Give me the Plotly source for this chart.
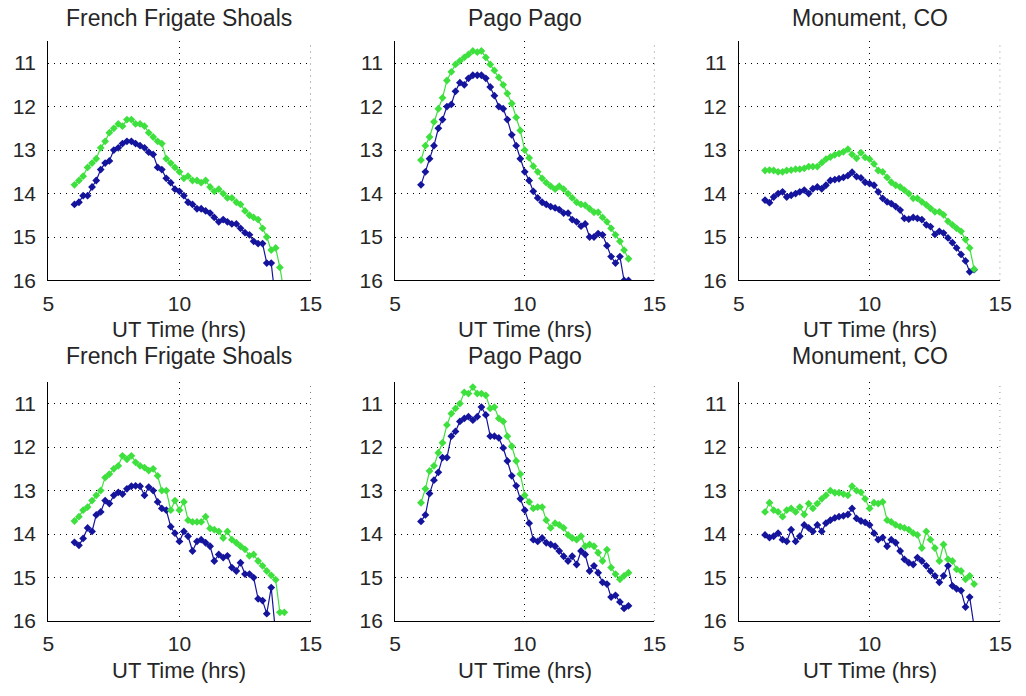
import plotly.graph_objects as go

# ---------------- data ----------------
ut_time = [6.0, 6.17, 6.33, 6.5, 6.67, 6.83, 7.0, 7.17, 7.33, 7.5, 7.67, 7.83,
           8.0, 8.17, 8.33, 8.5, 8.67, 8.83, 9.0, 9.17, 9.33, 9.5, 9.67, 9.83,
           10.0, 10.17, 10.33, 10.5, 10.67, 10.83, 11.0, 11.17, 11.33, 11.5, 11.67, 11.83,
           12.0, 12.17, 12.33, 12.5, 12.67, 12.83, 13.0, 13.17, 13.33, 13.5, 13.67, 13.83, 14.0]

titles = ["French Frigate Shoals", "Pago Pago", "Monument, CO",
          "French Frigate Shoals", "Pago Pago", "Monument, CO"]

ffs_top_green = [13.8, 13.7, 13.6, 13.4, 13.3, 13.2, 12.95, 12.8, 12.6, 12.5,
                 12.4, 12.45, 12.3, 12.3, 12.4, 12.4, 12.45, 12.6, 12.7, 12.8,
                 12.85, 13.2, 13.3, 13.4, 13.5, 13.65, 13.6, 13.7, 13.7, 13.75,
                 13.7, 13.85, 13.95, 13.9, 14.0, 14.1, 14.1, 14.2, 14.25, 14.4,
                 14.5, 14.55, 14.6, 14.8, 15.0, 15.3, 15.25, 15.7, 16.3]
ffs_top_blue = [14.25, 14.2, 14.05, 14.05, 13.85, 13.7, 13.45, 13.3, 13.25, 13.0,
                12.95, 12.85, 12.8, 12.8, 12.85, 12.9, 12.95, 13.05, 13.1, 13.4,
                13.45, 13.65, 13.75, 13.9, 13.95, 14.05, 14.2, 14.25, 14.35, 14.35,
                14.4, 14.45, 14.55, 14.65, 14.6, 14.65, 14.7, 14.7, 14.8, 14.9,
                14.95, 15.1, 15.15, 15.15, 15.6, 15.6, 16.5, None, None]

pago_top_green = [13.23, 12.9, 12.7, 12.35, 12.05, 11.8, 11.4, 11.2, 11.03, 10.95,
                  10.87, 10.8, 10.72, 10.75, 10.72, 10.87, 11.03, 11.17, 11.33, 11.5,
                  11.7, 11.93, 12.25, 12.55, 13.0, 13.18, 13.37, 13.5, 13.65, 13.75,
                  13.83, 13.9, 13.83, 13.9, 14.0, 14.1, 14.2, 14.25, 14.27, 14.35,
                  14.43, 14.43, 14.55, 14.65, 14.8, 14.95, 15.1, 15.3, 15.5]
pago_top_blue = [13.8, 13.5, 13.2, 12.9, 12.5, 12.3, 12.0, 11.95, 11.65, 11.45,
                 11.5, 11.35, 11.28, 11.28, 11.28, 11.35, 11.55, 11.75, 12.0, 12.05,
                 12.3, 12.65, 12.9, 13.2, 13.5, 13.7, 13.95, 14.1, 14.2, 14.25,
                 14.3, 14.33, 14.37, 14.45, 14.45, 14.6, 14.65, 14.75, 14.7, 15.0,
                 15.0, 14.92, 14.95, 15.2, 15.45, 15.6, 15.45, 16.0, 16.0]

mon_top_green = [13.47, 13.46, 13.47, 13.5, 13.5, 13.47, 13.46, 13.44, 13.44, 13.42,
                 13.38, 13.38, 13.38, 13.29, 13.21, 13.16, 13.11, 13.08, 13.04, 12.98,
                 13.1, 13.19, 13.06, 13.17, 13.21, 13.32, 13.47, 13.5, 13.63, 13.74,
                 13.81, 13.85, 13.92, 14.0, 14.11, 14.11, 14.19, 14.26, 14.34, 14.42,
                 14.42, 14.49, 14.64, 14.72, 14.8, 14.87, 15.06, 15.25, 15.74]
mon_top_blue = [14.15, 14.21, 14.08, 14.0, 13.96, 14.08, 14.04, 14.0, 13.96, 13.92,
                14.0, 13.89, 13.85, 13.89, 13.81, 13.7, 13.68, 13.66, 13.63, 13.59,
                13.51, 13.61, 13.64, 13.74, 13.77, 13.81, 13.96, 14.11, 14.19, 14.23,
                14.3, 14.38, 14.57, 14.59, 14.55, 14.57, 14.6, 14.72, 14.76, 14.94,
                14.87, 14.91, 15.02, 15.13, 15.25, 15.4, 15.55, 15.8, 15.75]

ffs_bot_green = [13.7, 13.6, 13.45, 13.38, 13.23, 13.11, 13.0, 12.7, 12.62, 12.5,
                 12.43, 12.2, 12.28, 12.2, 12.35, 12.43, 12.47, 12.54, 12.5, 12.66,
                 13.0, 13.0, 13.45, 13.23, 13.45, 13.26, 13.68, 13.72, 13.72, 13.72,
                 13.6, 13.87, 13.9, 13.94, 14.09, 13.94, 14.13, 14.2, 14.28, 14.35,
                 14.5, 14.47, 14.62, 14.73, 14.85, 14.95, 15.05, 15.8, 15.8]
ffs_bot_blue = [14.19, 14.26, 14.1, 13.86, 13.94, 13.56, 13.49, 13.23, 13.3, 13.11,
                13.04, 13.08, 12.96, 12.9, 12.89, 12.9, 13.11, 12.92, 13.0, 13.26,
                13.41, 13.45, 13.83, 13.98, 14.17, 13.94, 14.05, 14.39, 14.17, 14.13,
                14.2, 14.28, 14.62, 14.47, 14.54, 14.5, 14.77, 14.85, 14.66, 14.92,
                14.92, 15.0, 15.49, 15.53, 15.83, 15.23, 16.3, None, None]

pago_bot_green = [13.28, 12.96, 12.55, 12.43, 12.13, 11.9, 11.49, 11.23, 11.11, 11.0,
                  10.74, 10.77, 10.62, 10.77, 10.77, 10.81, 11.11, 11.08, 11.34, 11.41,
                  11.75, 11.98, 12.32, 12.62, 13.11, 13.26, 13.41, 13.38, 13.38, 13.68,
                  13.86, 13.75, 13.79, 13.86, 14.02, 14.09, 14.13, 14.05, 14.28, 14.24,
                  14.28, 14.43, 14.62, 14.36, 14.77, 14.92, 15.04, 14.96, 14.89]
pago_bot_blue = [13.71, 13.56, 13.07, 12.76, 12.58, 12.24, 12.24, 11.75, 11.64, 11.41,
                 11.34, 11.3, 11.38, 11.3, 11.08, 11.26, 11.75, 11.75, 11.79, 12.02,
                 12.32, 12.66, 12.89, 13.19, 13.45, 13.75, 14.13, 14.17, 14.09, 14.2,
                 14.24, 14.28, 14.39, 14.51, 14.62, 14.51, 14.7, 14.39, 14.47, 14.85,
                 14.73, 14.89, 15.11, 15.15, 15.45, 15.41, 15.56, 15.71, 15.65]

mon_bot_green = [13.49, 13.28, 13.45, 13.49, 13.6, 13.45, 13.41, 13.49, 13.38, 13.55,
                 13.3, 13.41, 13.3, 13.19, 13.11, 13.0, 13.05, 13.05, 13.08, 13.11,
                 12.9, 13.0, 13.04, 13.19, 13.41, 13.28, 13.3, 13.26, 13.68, 13.72,
                 13.79, 13.83, 13.86, 13.9, 13.98, 14.02, 14.32, 13.94, 14.13, 14.32,
                 14.62, 14.24, 14.58, 14.62, 14.81, 14.85, 15.04, 14.96, 15.15]
mon_bot_blue = [14.02, 14.08, 14.05, 13.98, 14.13, 14.17, 13.9, 14.17, 14.05, 13.79,
                13.86, 13.94, 13.79, 13.94, 13.75, 13.68, 13.63, 13.6, 13.58, 13.55,
                13.41, 13.64, 13.7, 13.73, 13.79, 13.98, 14.13, 14.08, 14.28, 14.13,
                14.2, 14.39, 14.58, 14.66, 14.7, 14.54, 14.62, 14.73, 14.85, 14.96,
                15.11, 14.96, 14.73, 15.19, 15.26, 15.3, 15.68, 15.45, 16.13]

green_series = [ffs_top_green, pago_top_green, mon_top_green,
                ffs_bot_green, pago_bot_green, mon_bot_green]
blue_series = [ffs_top_blue, pago_top_blue, mon_top_blue,
               ffs_bot_blue, pago_bot_blue, mon_bot_blue]

x_ticks = [5, 10, 15]
y_ticks = [11, 12, 13, 14, 15, 16]
x_range = [5, 15]
y_range = [16, 10.5]
x_label = "UT Time (hrs)"

# ---------------- layout geometry ----------------
W, H = 1026, 696
col_px = [(43, 310), (396, 660), (746, 1012)]
row_px = [(42, 285), (388, 631)]  # top, bottom in pixels
title_center_px = [18, 362]
label_center_px = [335, 681]

GREEN = "#3ee03e"
BLUE = "#14149c"
FONT = "Liberation Sans, Arial, sans-serif"
TXT = "#262626"
GRID_DASH = "1px,5px"

fig = go.Figure()
annotations = []
shapes = []
layout_axes = {}

for i in range(6):
    r, c = divmod(i, 3)
    n = i + 1
    xa = "x" if n == 1 else f"x{n}"
    ya = "y" if n == 1 else f"y{n}"
    fig.add_trace(go.Scatter(x=ut_time, y=blue_series[i], mode="lines+markers",
                             line=dict(color=BLUE, width=1.2),
                             marker=dict(symbol="diamond", size=6, color=BLUE),
                             xaxis=xa, yaxis=ya, showlegend=False, connectgaps=False))
    fig.add_trace(go.Scatter(x=ut_time, y=green_series[i], mode="lines+markers",
                             line=dict(color=GREEN, width=1.2),
                             marker=dict(symbol="diamond", size=6, color=GREEN),
                             xaxis=xa, yaxis=ya, showlegend=False, connectgaps=False))
    x0, x1 = col_px[c]
    t, b = row_px[r]
    xkey = "xaxis" if n == 1 else f"xaxis{n}"
    ykey = "yaxis" if n == 1 else f"yaxis{n}"
    common = dict(showline=True, linecolor="#000000", linewidth=1, mirror=False,
                  showgrid=True, gridcolor="#000000", gridwidth=1, griddash=GRID_DASH,
                  zeroline=False, ticks="", tickfont=dict(family=FONT, size=21, color=TXT))
    layout_axes[xkey] = dict(domain=[x0 / W, x1 / W], range=x_range, tickvals=x_ticks,
                             anchor=ya, ticklabelstandoff=4, **common)
    layout_axes[ykey] = dict(domain=[1 - b / H, 1 - t / H], range=y_range, tickvals=y_ticks,
                             anchor=xa, ticklabelstandoff=7, **common)
    # grid line at the right edge of the x range (plotly skips the edge gridline)
    shapes.append(dict(type="line", xref=xa, yref=f"{ya} domain",
                       x0=x_range[1], x1=x_range[1], y0=0, y1=1,
                       line=dict(color="#000000", width=1, dash=GRID_DASH), layer="below"))
    cx = (x0 + x1) / 2 / W
    annotations.append(dict(text=titles[i], x=cx, y=1 - title_center_px[r] / H,
                            xref="paper", yref="paper", xanchor="center", yanchor="middle",
                            showarrow=False, borderpad=0,
                            font=dict(family=FONT, size=23, color=TXT)))
    annotations.append(dict(text=x_label, x=cx, y=1 - label_center_px[r] / H,
                            xref="paper", yref="paper", xanchor="center", yanchor="middle",
                            showarrow=False, borderpad=0,
                            font=dict(family=FONT, size=22, color=TXT)))

fig.update_layout(width=W, height=H, margin=dict(l=0, r=0, t=0, b=0),
                  paper_bgcolor="white", plot_bgcolor="white",
                  annotations=annotations, shapes=shapes, **layout_axes)

fig.write_html("out.html")
